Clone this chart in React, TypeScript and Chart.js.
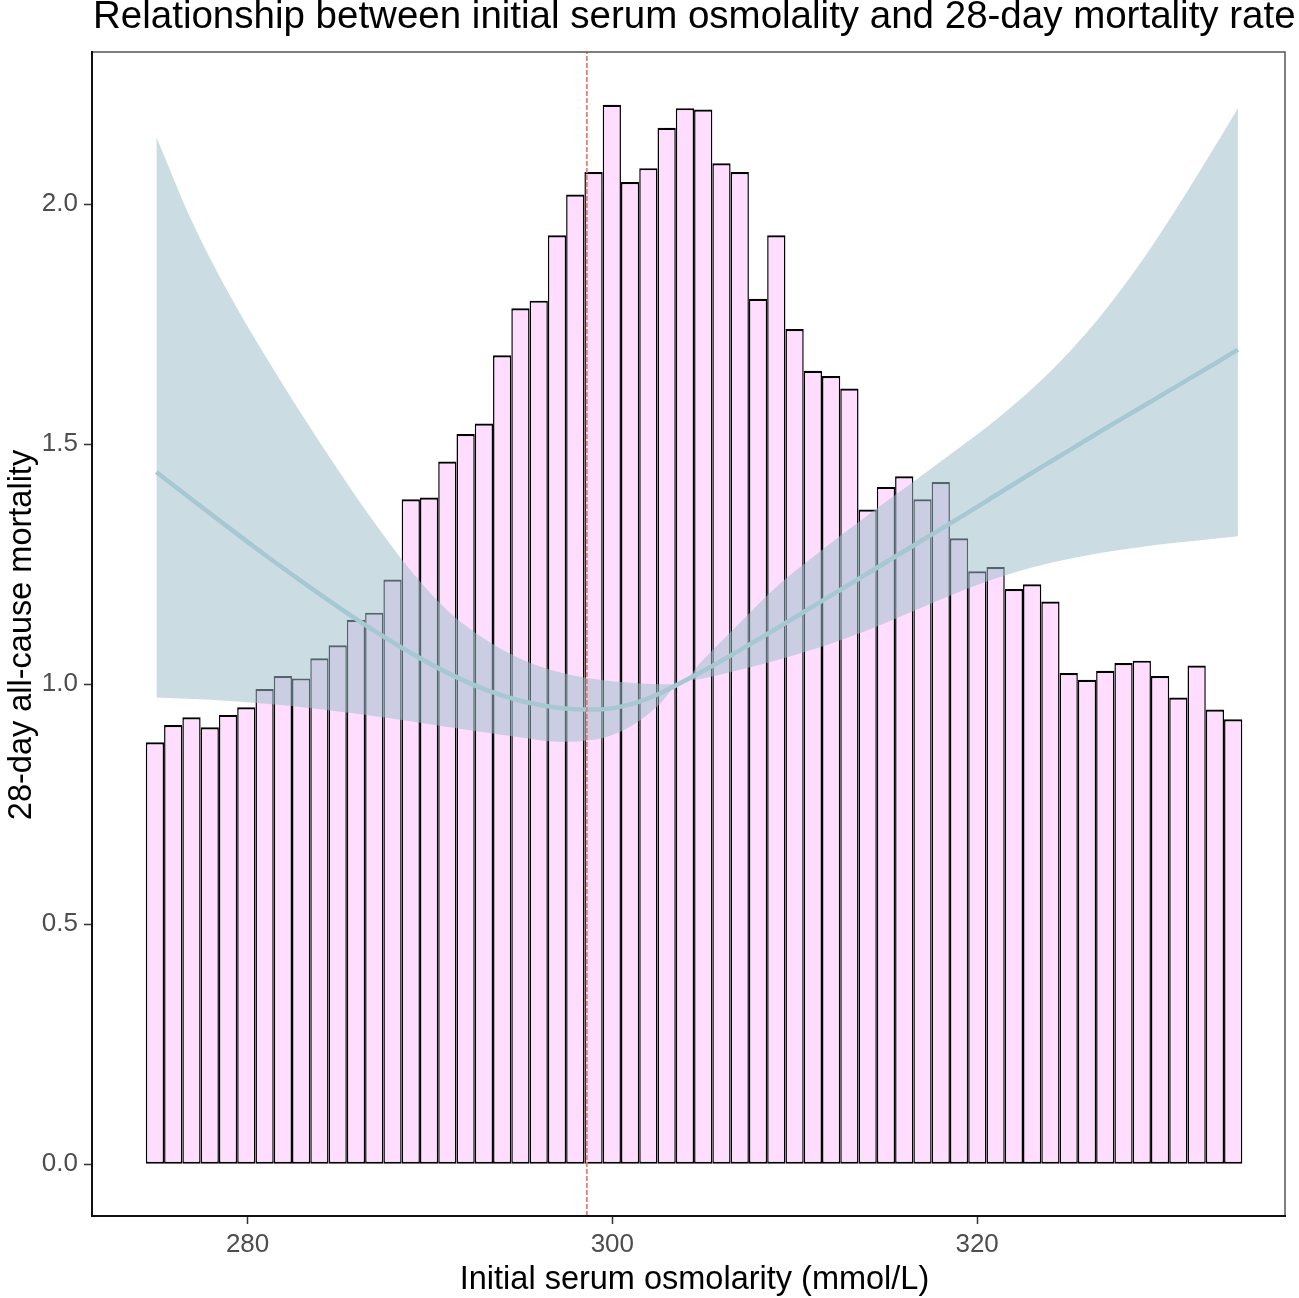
import { useEffect, useRef } from 'react'
import { Chart, registerables } from 'chart.js'

Chart.register(...registerables)

const FONT = '"Liberation Sans", Arial, sans-serif'
Chart.defaults.font.family = FONT

const title = 'Relationship between initial serum osmolality and 28-day mortality rate'
const xTitle = 'Initial serum osmolarity (mmol/L)'
const yTitle = '28-day all-cause mortality'

// histogram bins of initial serum osmolarity, about 1 mmol/L wide
const binStart = 274.42
const binWidth = 1.002
const binMortality = [
  0.879, 0.915, 0.931, 0.91, 0.936, 0.952, 0.99, 1.017, 1.012, 1.054,
  1.081, 1.134, 1.149, 1.218, 1.385, 1.389, 1.464, 1.521, 1.543, 1.685,
  1.783, 1.799, 1.935, 2.02, 2.067, 2.207, 2.046, 2.075, 2.159, 2.2,
  2.197, 2.085, 2.067, 1.803, 1.935, 1.74, 1.653, 1.642, 1.616, 1.364,
  1.411, 1.433, 1.385, 1.421, 1.304, 1.235, 1.244, 1.198, 1.208, 1.172,
  1.023, 1.009, 1.028, 1.044, 1.049, 1.017, 0.972, 1.039, 0.947, 0.927
]

// fitted curve with its confidence band
const fitX = [
  275, 277, 279, 281, 283, 285, 287, 289, 291, 293, 295, 297, 299, 301, 302.5, 303.6,
  305, 307, 309, 311, 313, 315, 317, 319, 321, 323, 325, 327, 329, 331, 333, 334.3
]
const fitY = [
  1.442, 1.383, 1.325, 1.268, 1.213, 1.16, 1.11, 1.064, 1.023, 0.989, 0.965, 0.951, 0.947, 0.958, 0.979, 1.0,
  1.028, 1.071, 1.116, 1.162, 1.208, 1.254, 1.3, 1.346, 1.393, 1.44, 1.486, 1.532, 1.577, 1.622, 1.667, 1.697
]
const fitUpper = [
  2.14, 1.96, 1.812, 1.682, 1.56, 1.444, 1.334, 1.234, 1.152, 1.094, 1.052, 1.026, 1.011, 1.003, 1.0, 1.0,
  1.052, 1.128, 1.203, 1.265, 1.323, 1.38, 1.436, 1.492, 1.55, 1.615, 1.69, 1.778, 1.88, 1.995, 2.118, 2.2
]
const fitLower = [
  0.972, 0.969, 0.965, 0.959, 0.952, 0.943, 0.933, 0.922, 0.911, 0.9, 0.889, 0.88, 0.884, 0.912, 0.955, 1.0,
  1.012, 1.03, 1.05, 1.072, 1.098, 1.128, 1.16, 1.192, 1.22, 1.243, 1.261, 1.275, 1.286, 1.295, 1.303, 1.308
]

const refX = 298.6
const xTicks = [280, 300, 320]
const yTicks = [0, 0.5, 1, 1.5, 2]
const xRange = [271.47, 336.88]
const yRange = [-0.108, 2.317]

const framePlugin = {
  id: 'frame',
  afterDraw(chart: any) {
    const { ctx, chartArea: a } = chart
    ctx.save()
    ctx.fillStyle = '#000'
    ctx.textBaseline = 'alphabetic'
    ctx.textAlign = 'left'
    ctx.font = `38.5px ${FONT}`
    ctx.fillText(title, a.left + 1, 28)

    ctx.textAlign = 'center'
    ctx.font = `32.5px ${FONT}`
    ctx.fillText(xTitle, (a.left + a.right) / 2 + 6, 1289)

    ctx.translate(31, (a.top + a.bottom) / 2 + 1)
    ctx.rotate(-Math.PI / 2)
    ctx.fillText(yTitle, 0, 0)
    ctx.setTransform(1, 0, 0, 1, 0, 0)
    ctx.restore()

    ctx.save()
    ctx.lineCap = 'square'
    ctx.strokeStyle = '#555'
    ctx.lineWidth = 1.5
    ctx.beginPath()
    ctx.moveTo(a.left, a.top)
    ctx.lineTo(a.right, a.top)
    ctx.lineTo(a.right, a.bottom)
    ctx.stroke()
    ctx.strokeStyle = '#111'
    ctx.lineWidth = 2
    ctx.beginPath()
    ctx.moveTo(a.left, a.top)
    ctx.lineTo(a.left, a.bottom)
    ctx.lineTo(a.right, a.bottom)
    ctx.stroke()
    ctx.restore()
  }
}

export default function App() {
  const canvasRef = useRef<HTMLCanvasElement>(null)

  useEffect(() => {
    if (!canvasRef.current) return
    const curve = (ys: number[]) => fitX.map((x, i) => ({ x, y: ys[i] }))
    const chart = new Chart(canvasRef.current, {
      type: 'bar',
      data: {
        datasets: [
          {
            type: 'line',
            data: [
              { x: refX, y: yRange[0] },
              { x: refX, y: yRange[1] }
            ],
            borderColor: '#F07A70',
            borderWidth: 1.8,
            borderDash: [5, 2],
            pointRadius: 0,
            fill: false,
            order: 1
          },
          {
            type: 'line',
            data: curve(fitY),
            borderColor: '#A6C8D2',
            borderWidth: 4.5,
            pointRadius: 0,
            cubicInterpolationMode: 'monotone',
            fill: false,
            order: 2
          },
          {
            type: 'line',
            data: curve(fitUpper),
            borderColor: 'rgba(0,0,0,0)',
            borderWidth: 0,
            pointRadius: 0,
            cubicInterpolationMode: 'monotone',
            backgroundColor: 'rgba(157,191,202,0.53)',
            fill: '+1',
            order: 3
          },
          {
            type: 'line',
            data: curve(fitLower),
            borderColor: 'rgba(0,0,0,0)',
            borderWidth: 0,
            pointRadius: 0,
            cubicInterpolationMode: 'monotone',
            fill: false,
            order: 4
          },
          {
            type: 'bar',
            data: binMortality.map((y, i) => ({ x: binStart + binWidth * (i + 0.5), y })),
            backgroundColor: '#FFDDFE',
            borderColor: '#000',
            borderWidth: { top: 2.2, bottom: 2, left: 1.5, right: 1.5 },
            borderSkipped: false,
            inflateAmount: 0,
            barPercentage: 1,
            categoryPercentage: 1,
            order: 5
          }
        ] as any
      },
      options: {
        animation: false,
        responsive: true,
        maintainAspectRatio: false,
        events: [],
        layout: { padding: { top: 52, right: 14, bottom: 0, left: 0 } },
        plugins: {
          legend: { display: false },
          tooltip: { enabled: false },
          title: { display: false }
        },
        scales: {
          x: {
            type: 'linear',
            min: xRange[0],
            max: xRange[1],
            offset: false,
            afterFit: (s: any) => {
              s.height = 82
            },
            afterBuildTicks: (s: any) => {
              s.ticks = xTicks.map((value) => ({ value }))
            },
            ticks: {
              font: { size: 26 },
              color: '#4D4D4D',
              padding: 5,
              maxRotation: 0,
              callback: (v: any) => String(v)
            },
            grid: {
              offset: false,
              drawOnChartArea: false,
              drawTicks: true,
              tickLength: 8,
              tickWidth: 1.5,
              tickColor: '#333'
            },
            border: { display: false }
          },
          y: {
            type: 'linear',
            min: yRange[0],
            max: yRange[1],
            afterFit: (s: any) => {
              s.width = 92
            },
            afterBuildTicks: (s: any) => {
              s.ticks = yTicks.map((value) => ({ value }))
            },
            ticks: {
              font: { size: 26 },
              color: '#4D4D4D',
              padding: 6,
              callback: (v: any) => Number(v).toFixed(1)
            },
            grid: {
              drawOnChartArea: false,
              drawTicks: true,
              tickLength: 8,
              tickWidth: 1.5,
              tickColor: '#333'
            },
            border: { display: false }
          }
        }
      },
      plugins: [framePlugin]
    })

    return () => {
      chart.destroy()
    }
  }, [])

  return (
    <div style={{ position: 'fixed', left: 0, top: 0, width: 1299, height: 1298, background: '#fff' }}>
      <canvas ref={canvasRef}></canvas>
    </div>
  )
}
